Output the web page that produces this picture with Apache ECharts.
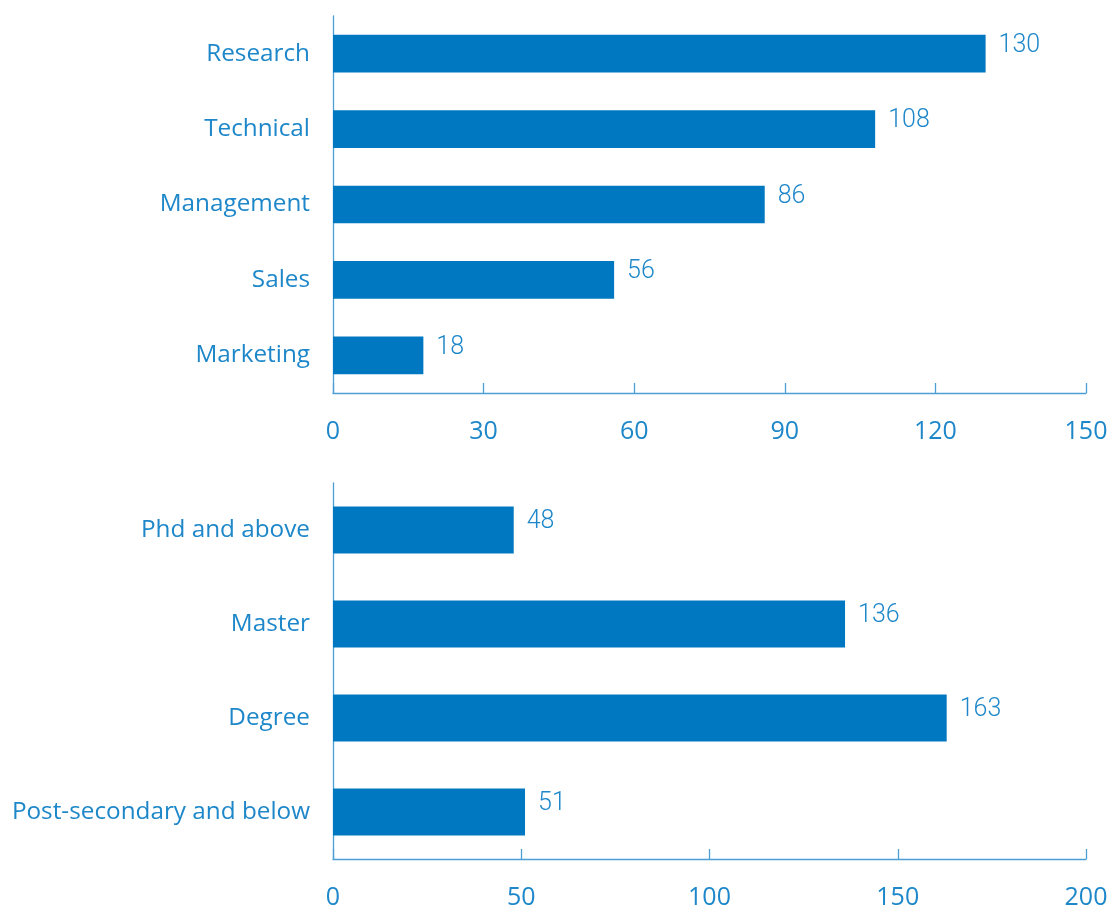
<!DOCTYPE html>
<html><head><meta charset="utf-8">
<script src="https://cdn.jsdelivr.net/npm/echarts@6/dist/echarts.min.js"></script>
<style>html,body{margin:0;padding:0;background:#fff}#c{width:1112px;height:908px}</style>
</head><body><div id="c"></div>
<script>
const roleCategories = ['Research', 'Technical', 'Management', 'Sales', 'Marketing'];
const roleValues = [130, 108, 86, 56, 18];
const roleTicks = [0, 30, 60, 90, 120, 150];
const eduCategories = ['Phd and above', 'Master', 'Degree', 'Post-secondary and below'];
const eduValues = [48, 136, 163, 51];
const eduTicks = [0, 50, 100, 150, 200];

const barColor = '#0078c1';
const textColor = '#1d87c9';
const axisColor = '#4c9fd6';
const font = '"Open Sans", "Noto Sans", sans-serif';

function xAxis(gridIndex, ticks) {
  return {
    type: 'value', gridIndex,
    min: ticks[0], max: ticks[ticks.length - 1], interval: ticks[1] - ticks[0],
    axisLine: {show: true, lineStyle: {color: axisColor, width: 1.3}},
    axisTick: {show: true, inside: true, length: 10, lineStyle: {color: axisColor, width: 1.3}},
    splitLine: {show: false},
    axisLabel: {color: textColor, fontSize: 25, fontFamily: font, margin: 26}
  };
}
function yAxis(gridIndex, cats) {
  return {
    type: 'category', gridIndex, data: cats, inverse: true,
    axisLine: {show: true, lineStyle: {color: axisColor, width: 1.3}},
    axisTick: {show: false},
    axisLabel: {color: textColor, fontSize: 24.3, fontFamily: font, margin: 23}
  };
}
function series(idx, vals) {
  return {
    type: 'bar', xAxisIndex: idx, yAxisIndex: idx, data: vals, barWidth: '50%',
    itemStyle: {color: barColor},
    label: {show: true, position: 'right', distance: 13, offset: [0, -8],
      color: textColor, fontSize: 25, fontWeight: 300, fontFamily: 'Roboto, sans-serif'},
    silent: true
  };
}
const chart = echarts.init(document.getElementById('c'), null, {renderer: 'canvas'});
chart.setOption({
  animation: false,
  grid: [
    {left: 333, right: 26, top: 16, height: 377, outerBoundsMode: 'none'},
    {left: 333, right: 26, top: 483, height: 376, outerBoundsMode: 'none'}
  ],
  xAxis: [xAxis(0, roleTicks), xAxis(1, eduTicks)],
  yAxis: [yAxis(0, roleCategories), yAxis(1, eduCategories)],
  series: [series(0, roleValues), series(1, eduValues)]
});
</script></body></html>
